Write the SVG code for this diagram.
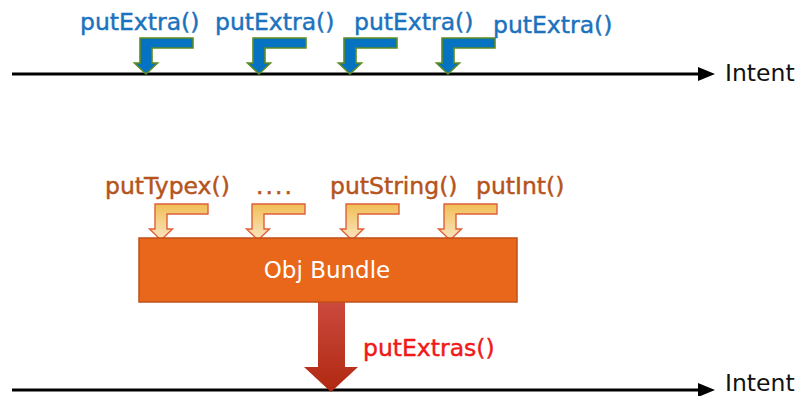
<svg xmlns="http://www.w3.org/2000/svg" width="800" height="396" viewBox="0 0 800 396">
  <style>
    .lbl { font-family: "DejaVu Sans", "Liberation Sans", sans-serif; font-size: 23.5px; stroke-width: 0.45; }
    .blue { fill: #1B72BE; stroke: #1B72BE; }
    .brown { fill: #B5541C; stroke: #B5541C; }
    .red { fill: #F01818; stroke: #F01818; }
    .axis { stroke: #000; stroke-width: 3; fill: none; }
    .axishead { fill: #000; }
    .intent { font-family: "DejaVu Sans", "Liberation Sans", sans-serif; font-size: 23.5px; fill: #111; }
    .bentBlue { fill: #0672C2; stroke: #5E8C1E; stroke-width: 1.6; }
    .bentGold { fill: url(#goldGrad); stroke: #E0603A; stroke-width: 1.4; }
  </style>
  <defs>
    <!-- bent arrow, tip at the origin -->
    <path id="bent" d="M0,0 L-11.5,-11 L-6,-11 L-6,-36 L47,-36 L47,-26 L6,-26 L6,-11 L11.5,-11 Z"/>
    <linearGradient id="goldGrad" x1="0" y1="0" x2="0" y2="1">
      <stop offset="0" stop-color="#F0BE55"/>
      <stop offset="1" stop-color="#FBE6C2"/>
    </linearGradient>
    <linearGradient id="redGrad" x1="0" y1="0" x2="0" y2="1">
      <stop offset="0" stop-color="#CB4A3E"/>
      <stop offset="1" stop-color="#B02810"/>
    </linearGradient>
  </defs>

  <!-- connectors: the two Intent timelines and the putExtras() arrow -->
  <g id="connectors">
    <line class="axis" x1="12" y1="74" x2="700" y2="74"/>
    <polygon class="axishead" points="698,67 715,74 698,81"/>
    <line class="axis" x1="12" y1="390" x2="700" y2="390"/>
    <polygon class="axishead" points="698,383 715,390 698,397"/>
    <path id="putExtrasArrow" fill="url(#redGrad)" d="M318,302 L345,302 L345,367 L358,367 L331,392 L304,367 L318,367 Z"/>
  </g>

  <!-- top row: putExtra() calls straight into the Intent -->
  <g id="putExtra1">
    <use href="#bent" class="bentBlue" transform="translate(146,74)"/>
    <text class="lbl blue" x="80" y="30">putExtra()</text>
  </g>
  <g id="putExtra2">
    <use href="#bent" class="bentBlue" transform="translate(259,74)"/>
    <text class="lbl blue" x="215" y="30">putExtra()</text>
  </g>
  <g id="putExtra3">
    <use href="#bent" class="bentBlue" transform="translate(350,74)"/>
    <text class="lbl blue" x="354" y="30">putExtra()</text>
  </g>
  <g id="putExtra4">
    <use href="#bent" class="bentBlue" transform="translate(448,74)"/>
    <text class="lbl blue" x="493" y="33">putExtra()</text>
  </g>
  <g id="intentTop">
    <text class="intent" x="725" y="81">Intent</text>
  </g>

  <!-- bottom row: typed puts into a Bundle -->
  <g id="putTypex">
    <use href="#bent" class="bentGold" transform="translate(161,240)"/>
    <text class="lbl brown" x="105" y="194">putTypex()</text>
  </g>
  <g id="ellipsis">
    <use href="#bent" class="bentGold" transform="translate(258,240)"/>
    <text class="lbl brown" x="256" y="194" letter-spacing="2">....</text>
  </g>
  <g id="putString">
    <use href="#bent" class="bentGold" transform="translate(352,240)"/>
    <text class="lbl brown" x="330" y="194">putString()</text>
  </g>
  <g id="putInt">
    <use href="#bent" class="bentGold" transform="translate(450,240)"/>
    <text class="lbl brown" x="476" y="194">putInt()</text>
  </g>

  <g id="objBundle">
    <rect x="139" y="238" width="378" height="64" fill="#E8671A" stroke="#C0501A" stroke-width="1.5"/>
    <text x="327" y="278" text-anchor="middle" font-family="DejaVu Sans, Liberation Sans, sans-serif" font-size="23" fill="#FFFFFF">Obj Bundle</text>
  </g>

  <g id="putExtrasLabel">
    <text class="lbl red" x="363" y="356">putExtras()</text>
  </g>
  <g id="intentBottom">
    <text class="intent" x="725" y="391">Intent</text>
  </g>
</svg>
